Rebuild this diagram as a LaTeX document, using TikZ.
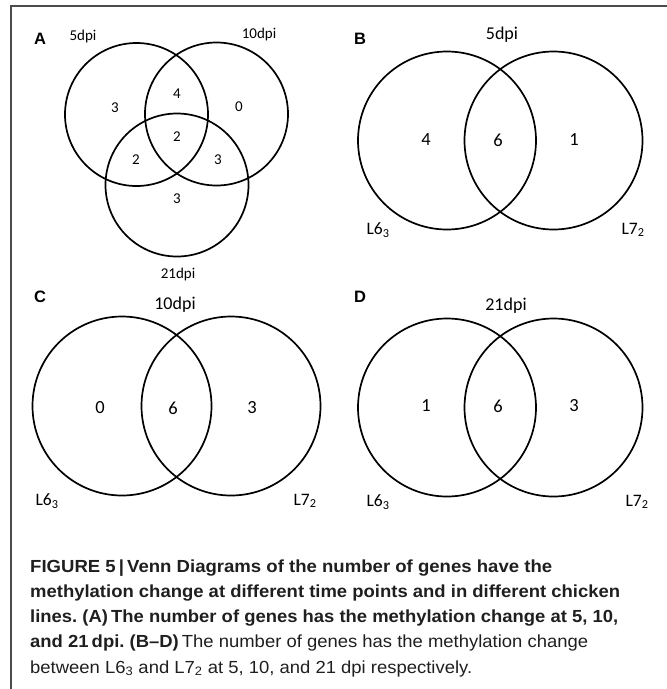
\documentclass[tikz,border=0pt]{standalone}
\usepackage{fontspec}
\usepackage{graphicx}
\newfontfamily\vennfont{Carlito}
\newfontfamily\panelfont{Liberation Sans}
\newfontfamily\capfont{Liberation Sans}
\frenchspacing
\newsavebox\capbox
\newcommand\fitline[2]{\sbox\capbox{#2}\pgfmathsetmacro\capsx{#1/\the\wd\capbox}\scalebox{\capsx}[1]{\usebox\capbox}}
\tikzset{
  vcirc/.style={draw=black, line width=1.7pt, circle, inner sep=0pt, minimum size=#1},
  panel/.style={font=\panelfont\bfseries\fontsize{16.5}{18}\selectfont, inner sep=0pt},
  smalllab/.style={font=\vennfont\fontsize{15}{17}\selectfont, inner sep=0pt},
  smallnum/.style={font=\vennfont\fontsize{15}{17}\selectfont, inner sep=0pt},
  biglab/.style={font=\vennfont\fontsize{18}{20}\selectfont, inner sep=0pt},
  linelab/.style={font=\vennfont\fontsize{17.5}{20}\selectfont, inner sep=0pt},
  bignum/.style={font=\vennfont\fontsize{18.5}{20}\selectfont, inner sep=0pt},
  capline/.style={anchor=base west, inner sep=0pt, font=\capfont\fontsize{17.5}{20}\selectfont, text=black!88},
  frameline/.style={draw=black!70, line width=1.2pt}
}
\begin{document}
\begin{tikzpicture}[x=1pt,y=-1pt]
\useasboundingbox (0,0) rectangle (667,689);
% frame
\coordinate (fr) at (667,6);
\coordinate (fc) at (11,6);
\coordinate (fb) at (11,689);
\draw[frameline] (fr) -- (fc) -- (fb);

% Panel A
\node[panel] (pA) at (40,39) {A};
\node[vcirc=143pt] (a1) at (136.5,114.5) {};
\node[vcirc=143pt] (a2) at (216.5,114) {};
\node[vcirc=143pt] (a3) at (177,185) {};
\node[smalllab] (a1l) at (83,36) {5dpi};
\node[smalllab] (a2l) at (259,34) {10dpi};
\node[smalllab] (a3l) at (178,274) {21dpi};
\node[smallnum] (an1) at (115,108) {3};
\node[smallnum] (an2) at (177,94) {4};
\node[smallnum] (an3) at (239,107) {0};
\node[smallnum] (an4) at (177,137) {2};
\node[smallnum] (an5) at (136,160) {2};
\node[smallnum] (an6) at (218,160) {3};
\node[smallnum] (an7) at (177,199) {3};

% Panel B
\node[panel] (pB) at (360,39) {B};
\node[vcirc=178pt] (b1) at (447,140.5) {};
\node[vcirc=178pt] (b2) at (553.5,140.5) {};
\node[biglab] (bt) at (502,35) {5dpi};
\node[bignum] (bn1) at (426,140) {4};
\node[bignum] (bn2) at (498,140) {6};
\node[bignum] (bn3) at (574,140) {1};
\node[linelab] (bl1) at (378,230) {L6\textsubscript{3}};
\node[linelab] (bl2) at (633,230) {L7\textsubscript{2}};

% Panel C
\node[panel] (pC) at (40,297) {C};
\node[vcirc=179pt] (c1) at (122,406) {};
\node[vcirc=179pt] (c2) at (231,406) {};
\node[biglab] (ct) at (175,305) {10dpi};
\node[bignum] (cn1) at (100,408) {0};
\node[bignum] (cn2) at (173,408) {6};
\node[bignum] (cn3) at (252,408) {3};
\node[linelab] (cl1) at (47,501) {L6\textsubscript{3}};
\node[linelab] (cl2) at (305,501) {L7\textsubscript{2}};

% Panel D
\node[panel] (pD) at (360,297) {D};
\node[vcirc=178pt] (d1) at (447,407.5) {};
\node[vcirc=178pt] (d2) at (553.5,407.5) {};
\node[biglab] (dt) at (506,306) {21dpi};
\node[bignum] (dn1) at (426,406) {1};
\node[bignum] (dn2) at (498,406) {6};
\node[bignum] (dn3) at (574,406) {3};
\node[linelab] (dl1) at (378,502) {L6\textsubscript{3}};
\node[linelab] (dl2) at (637,502) {L7\textsubscript{2}};

% Caption
\node[capline] (cap1) at (30,572) {\fitline{522}{\bfseries FIGURE 5\,|\,Venn Diagrams of the number of genes have the}};
\node[capline] (cap2) at (30,597) {\fitline{590}{\bfseries methylation change at different time points and in different chicken}};
\node[capline] (cap3) at (30,622) {\fitline{588}{\bfseries lines. (A)\,The number of genes has the methylation change at 5, 10,}};
\node[capline] (cap4) at (30,647) {\fitline{558}{{\bfseries and 21\,dpi. (B\textendash D)}\,The number of genes has the methylation change}};
\node[capline] (cap5) at (30,673) {\fitline{442}{between L6\textsubscript{3} and L7\textsubscript{2} at 5, 10, and 21 dpi respectively.}};
\end{tikzpicture}
\end{document}
